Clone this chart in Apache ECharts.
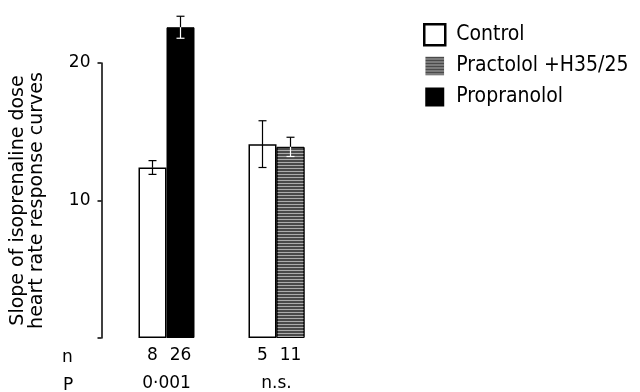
<!DOCTYPE html>
<html><head><meta charset="utf-8">
<script src="https://cdn.jsdelivr.net/npm/echarts@6/dist/echarts.min.js"></script>
<style>html,body{margin:0;padding:0;background:#fff}#c{width:640px;height:392px}</style>
</head><body><div id="c"></div>
<script>
const groups = ['g1', 'g2'];
const pValues = ['0·001', 'n.s.'];
const controlMean = [12.4, 14.1];
const controlErr = [0.5, 1.7];
const controlN = [8, 5];
const propranololMean = [22.6, null];
const propranololErr = [0.8, null];
const propranololN = [26, null];
const practololMean = [null, 13.9];
const practololErr = [null, 0.7];
const practololN = [null, 11];
const yTicks = [0, 10, 20];

const FONT = 'DejaVu Sans';
const LFONT = '"DejaVu Sans Condensed", "DejaVu Sans"';
const BW = 28;
const chart = echarts.init(document.getElementById('c'));

function nLabel(arr) {
  return {
    show: true, position: 'bottom', distance: 9,
    fontFamily: FONT, fontSize: 17, color: '#000',
    formatter: p => arr[p.dataIndex] == null ? '' : String(arr[p.dataIndex])
  };
}

// error bars: [groupIndex, slot(-1 left / +1 right), mean, err, inverted]
const errData = [];
controlMean.forEach((m, i) => { if (m != null) errData.push([i, -1, m, controlErr[i], 0]); });
propranololMean.forEach((m, i) => { if (m != null) errData.push([i, 1, m, propranololErr[i], 1]); });
practololMean.forEach((m, i) => { if (m != null) errData.push([i, 1, m, practololErr[i], 1]); });

const practololDecal = { symbol: 'rect', symbolSize: 1, dashArrayX: [1, 0], dashArrayY: [1, 2], color: 'rgba(225,225,225,0.65)' };

chart.setOption({
  animation: false,
  grid: { left: 111.5, right: 308.5, top: 63, bottom: 51 },
  legend: {
    orient: 'vertical', left: 418, top: 18, itemGap: 8,
    itemWidth: 21, itemHeight: 21, icon: 'rect',
    textStyle: { fontFamily: LFONT, fontSize: 21, color: '#000', padding: [0, 0, 0, 6] },
    data: [
      { name: 'Control', itemStyle: { color: '#fff', borderColor: '#000', borderWidth: 2.5 } },
      { name: 'Practolol +H35/25', itemStyle: { borderColor: '#fff', borderWidth: 2 } },
      { name: 'Propranolol', itemStyle: { color: '#000', borderColor: '#fff', borderWidth: 2 } }
    ]
  },
  xAxis: {
    type: 'category', data: groups,
    axisLine: { show: false }, axisTick: { show: false },
    axisLabel: {
      margin: 37, fontFamily: FONT, fontSize: 17, color: '#000',
      formatter: (v, i) => pValues[i]
    }
  },
  yAxis: {
    type: 'value', min: yTicks[0], max: yTicks[yTicks.length - 1], interval: 10,
    offset: 10,
    splitLine: { show: false },
    axisLine: { show: true, lineStyle: { color: '#000', width: 1.5 } },
    axisTick: { show: true, length: 4, lineStyle: { color: '#000', width: 1.5 } },
    axisLabel: {
      fontFamily: FONT, fontSize: 17, color: '#000', margin: 11,
      formatter: v => v === 0 ? '' : String(v)
    },
    name: 'Slope of isoprenaline dose\nheart rate response curves',
    nameLocation: 'middle', nameGap: 55, nameRotate: 90,
    nameTextStyle: { fontFamily: FONT, fontSize: 19, color: '#000', lineHeight: 19 }
  },
  series: [
    {
      name: 'Control', type: 'bar', stack: 'a', barWidth: BW, barGap: 0, clip: false,
      data: controlMean,
      itemStyle: { color: '#fff', borderColor: '#000', borderWidth: 1.5 },
      label: nLabel(controlN)
    },
    {
      name: 'Propranolol', type: 'bar', stack: 'b', barWidth: BW, barGap: 0, clip: false,
      data: propranololMean,
      itemStyle: { color: '#000', borderColor: '#000', borderWidth: 1 },
      label: nLabel(propranololN)
    },
    {
      name: 'Practolol +H35/25', type: 'bar', stack: 'b', barWidth: BW, barGap: 0, clip: false,
      data: practololMean,
      itemStyle: { color: '#4a4a4a', borderColor: '#000', borderWidth: 1, decal: practololDecal },
      label: nLabel(practololN)
    },
    {
      type: 'custom', clip: false, z: 10, silent: true,
      data: errData,
      renderItem: (params, api) => {
        const g = api.value(0), slot = api.value(1), m = api.value(2), e = api.value(3), inv = api.value(4);
        const c = api.coord([g, m]);
        const x = c[0] + slot * BW / 2;
        const yTop = api.coord([g, m + e])[1];
        const yBot = api.coord([g, m - e])[1];
        const yMid = c[1];
        const cap = 4;
        const inner = inv ? '#fff' : '#000';
        return {
          type: 'group', children: [
            { type: 'line', shape: { x1: x, y1: yTop, x2: x, y2: yMid }, style: { stroke: '#000', lineWidth: 1.2 } },
            { type: 'line', shape: { x1: x - cap, y1: yTop, x2: x + cap, y2: yTop }, style: { stroke: '#000', lineWidth: 1.2 } },
            { type: 'line', shape: { x1: x, y1: yMid, x2: x, y2: yBot }, style: { stroke: inner, lineWidth: 1.2 } },
            { type: 'line', shape: { x1: x - cap, y1: yBot, x2: x + cap, y2: yBot }, style: { stroke: inner, lineWidth: 1.2 } }
          ]
        };
      }
    }
  ],
  graphic: [
    { type: 'text', left: 62, top: 349, style: { text: 'n', font: '17px "DejaVu Sans"', fill: '#000' } },
    { type: 'text', left: 63, top: 377, style: { text: 'P', font: '17px "DejaVu Sans"', fill: '#000' } }
  ]
});
</script></body></html>
